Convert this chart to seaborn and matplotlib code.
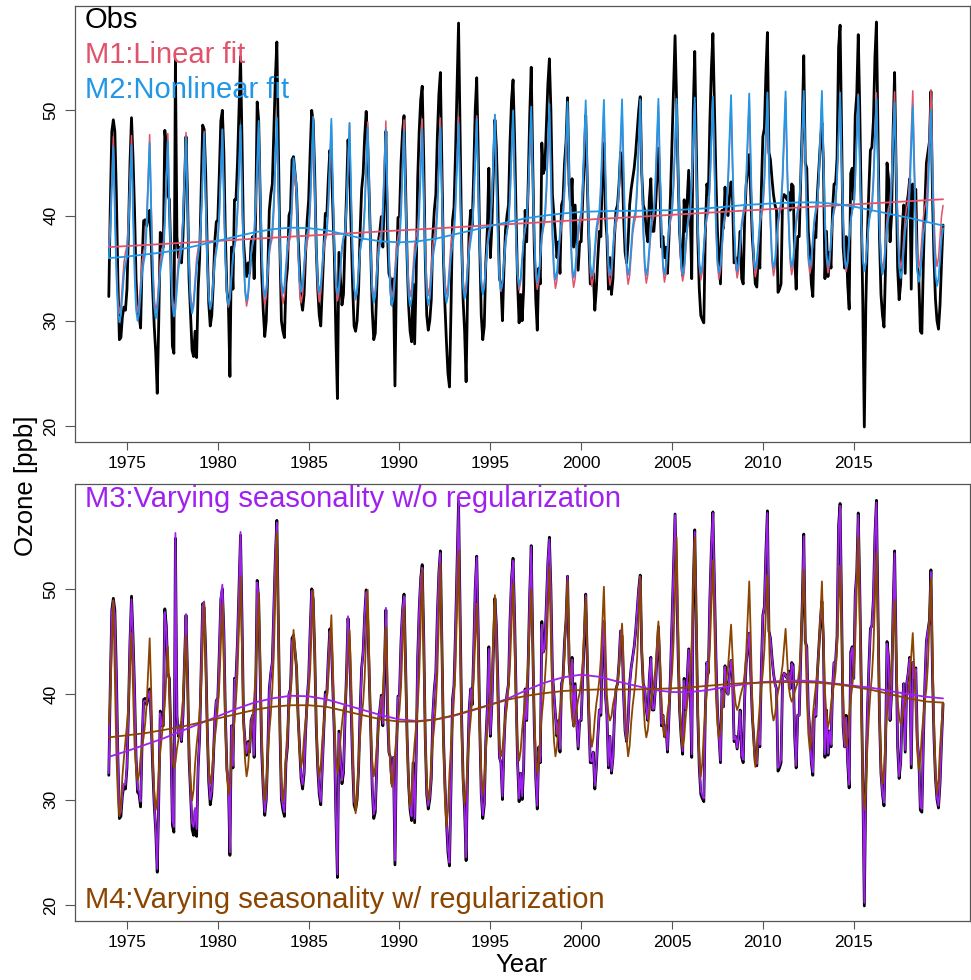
import numpy as np
import pandas as pd
import matplotlib
matplotlib.use("Agg")
import matplotlib.pyplot as plt
import seaborn as sns

# ---------------------------------------------------------------- data
years = list(range(1974, 2020))
x_ticks = [1975, 1980, 1985, 1990, 1995, 2000, 2005, 2010, 2015]
y_ticks = [20, 30, 40, 50]

# monthly observed ozone [ppb], one row per year (Jan..Dec); None = missing month
obs = [
    [32.3, 41.0, 48.0, 49.1, 48.0, 42.0, 34.0, 28.2, 28.4, 30.4, 31.3, 31.0],
    [33.0, 38.5, 45.0, 49.3, 45.5, 40.5, 34.0, 30.7, 30.5, 29.3, 35.5, 39.5],
    [39.6, 39.0, 39.7, 40.5, 37.5, 33.0, 29.5, 27.0, 23.1, 30.0, 38.4, 37.0],
    [37.0, 48.1, 46.5, 42.0, 41.5, 36.0, 27.6, 26.9, 54.8, 38.0, 36.0, 37.0],
    [35.5, 38.0, 43.0, 47.5, 42.0, 34.0, 30.5, 27.2, 26.6, 29.0, 26.5, 33.0],
    [36.0, 42.5, 48.6, 48.2, 44.0, 37.0, 31.7, 29.5, 30.5, 33.5, 37.5, 39.4],
    [39.6, 44.0, 49.0, 50.0, 46.0, 38.0, 32.9, 31.5, 24.7, 37.0, 33.0, 41.5],
    [41.5, 45.0, 50.0, 55.1, 47.0, 37.5, 35.5, 34.2, 35.5, 34.5, 37.5, 38.0],
    [34.0, 40.0, 50.8, 49.0, 41.5, 34.5, 31.0, 28.5, 30.0, 34.5, 40.5, 42.0],
    [43.0, 48.0, 53.0, 56.5, 47.0, 37.0, 30.0, 29.0, 28.4, 33.5, 35.0, 40.0],
    [40.5, 45.3, 45.6, None, 42.5, 38.0, 35.0, 32.0, 31.0, 32.5, 36.5, 39.5],
    [41.5, 46.0, 50.0, 49.0, 44.0, 37.0, 33.0, 30.5, 29.5, 33.0, 36.5, 40.2],
    [40.0, 43.5, 46.2, 45.0, 40.5, 36.0, 28.5, 22.6, 36.5, 34.0, 31.5, 32.5],
    [37.5, 42.0, 47.2, 44.5, 39.0, 33.5, 29.5, 29.0, 30.0, 33.0, 38.5, 42.5],
    [44.0, 47.5, 49.9, 47.0, 42.0, 36.7, 31.0, 28.2, 28.8, 33.0, 37.5, 38.5],
    [39.9, 37.0, 42.0, 48.0, 38.5, 34.5, 34.0, 31.5, 34.0, 23.8, 34.5, 39.8],
    [39.9, 45.0, 48.0, 49.5, 43.0, 36.0, 31.5, 29.0, 28.0, 33.5, 27.8, 34.0],
    [43.4, 48.0, 51.0, 52.3, 45.5, 36.0, 30.5, 29.1, 30.0, 32.0, 38.0, 40.5],
    [42.0, 47.5, 51.5, 53.6, 45.0, 36.0, 31.5, 28.0, 25.0, 23.7, 31.0, 39.5],
    [40.8, 46.0, 52.0, 58.3, 48.0, 38.0, 32.0, 29.0, 24.2, 33.0, 38.5, 40.5],
    [39.0, 44.0, 50.0, 53.1, 46.0, 37.0, 30.5, 28.2, 29.5, 35.5, 38.6, 44.5],
    [36.0, 39.0, 44.0, 49.1, 46.5, 41.0, 34.0, 33.5, 30.0, 35.0, 38.6, 40.0],
    [41.0, 47.0, 51.0, 52.9, 47.5, 40.0, 33.5, 29.8, 32.5, 30.0, 33.0, 40.5],
    [37.5, 43.0, 49.5, 54.1, 45.0, 37.0, 32.0, 29.1, 35.0, 33.5, 46.9, 44.0],
    [44.5, 48.5, 52.5, 54.9, 50.0, 42.0, 40.0, 38.0, 36.0, 37.5, 34.5, 41.0],
    [41.5, 45.0, 47.0, 51.2, 43.0, 41.0, 43.5, 37.0, 41.0, 37.5, 34.8, 37.5],
    [37.5, 41.5, 45.0, 49.5, 43.5, 38.0, 33.5, 33.5, 34.5, 31.0, 33.0, 36.0],
    [38.5, 38.0, 44.5, 46.9, 40.0, 38.0, 33.0, 36.0, 32.5, 34.0, 38.0, 40.5],
    [41.0, 43.0, 46.0, 45.5, 40.0, 36.5, 35.5, 37.5, 41.0, 42.5, 43.5, 44.5],
    [46.0, 48.0, 50.0, 51.3, 44.0, 41.0, 40.5, 38.5, 37.5, 41.5, 43.5, 38.5],
    [38.5, 40.5, 43.5, 46.4, 42.5, 37.0, 38.0, 36.0, 37.0, 34.5, 38.0, 42.0],
    [47.0, 52.0, 57.1, 51.0, 44.0, 38.5, 36.0, 34.3, 41.5, 38.5, 41.5, 44.3],
    [40.5, 34.0, 50.0, 55.6, 47.0, 38.0, 33.0, 30.5, 30.1, 29.8, 38.5, 43.0],
    [42.0, 49.0, 54.0, 57.3, 50.5, 43.5, 38.5, 36.0, 33.5, 40.5, 38.8, 42.7],
    [40.3, 40.0, 42.0, 43.2, 41.5, 35.5, 36.0, 34.8, 36.2, 38.5, 34.0, 33.5],
    [39.8, 43.0, 44.3, 45.8, 42.0, 38.0, 35.8, 33.5, 33.2, 36.5, 35.0, 42.5],
    [47.5, 48.3, 53.5, 57.4, 46.0, 45.3, 43.5, 42.0, 41.0, 40.5, 32.7, 33.0],
    [33.5, 41.5, 42.0, 41.8, 41.5, 42.2, 40.5, 43.0, 42.8, 36.0, 33.0, 38.0],
    [38.0, 43.5, 48.5, 55.2, 45.0, 44.5, 38.5, 36.5, 33.5, 32.3, 38.5, 37.9],
    [42.0, 44.5, 47.0, 48.8, 45.0, 34.0, 38.5, 34.2, 36.5, 35.0, 40.5, 43.0],
    [43.0, 45.5, 56.0, 58.1, 48.0, 37.0, 35.0, 38.0, 33.5, 31.1, 44.0, 44.5],
    [41.5, 49.5, 51.5, 57.2, 50.0, 41.0, 31.5, 19.9, 31.5, 38.0, 42.5, 46.2],
    [46.5, 49.0, 55.0, 58.4, 48.0, 38.0, 32.5, 30.5, 29.4, 35.0, 45.0, 43.5],
    [37.5, 40.0, 48.0, 53.6, 44.0, 35.0, 32.0, 33.5, 38.5, 41.0, 34.5, 41.0],
    [42.0, 43.5, 33.0, 43.0, 41.5, 42.5, 35.5, 34.0, 29.0, 28.8, 35.5, 41.0],
    [45.0, 46.0, 47.0, 51.8, 42.0, 36.0, 32.0, 30.0, 29.2, 31.5, 35.5, 39.1],
]

# M3 fitted values (varying seasonality, no regularization)
m3_fit = [
    [32.5, 41.2, 47.8, 48.9, 47.5, 41.5, 34.2, 28.6, 28.8, 30.6, 31.5, 31.4],
    [33.2, 38.8, 45.2, 49.0, 45.2, 40.3, 34.0, 31.0, 30.8, 29.8, 35.5, 39.3],
    [39.4, 39.2, 39.8, 40.3, 37.6, 33.2, 29.8, 27.2, 23.4, 30.2, 38.2, 37.0],
    [37.2, 47.8, 46.2, 42.0, 41.3, 36.0, 28.0, 27.4, 55.3, 38.0, 36.2, 37.0],
    [35.6, 38.2, 43.2, 47.6, 42.0, 34.2, 30.8, 27.8, 27.4, 29.2, 27.2, 33.0],
    [36.0, 42.6, 48.4, 48.8, 44.0, 37.2, 32.0, 30.0, 30.8, 33.5, 37.4, 39.4],
    [39.6, 44.0, 49.2, 50.4, 46.0, 38.2, 33.2, 31.8, 25.0, 37.0, 33.2, 41.4],
    [41.4, 45.2, 50.0, 55.4, 47.0, 37.6, 35.6, 34.4, 35.4, 34.6, 37.4, 38.0],
    [34.2, 40.2, 50.6, 49.0, 41.5, 34.6, 31.2, 28.8, 30.2, 34.5, 40.3, 42.0],
    [43.0, 48.0, 53.2, 56.3, 47.0, 37.2, 30.3, 29.4, 28.8, 33.5, 35.2, 40.0],
    [40.5, 45.0, 45.6, None, 42.5, 38.0, 35.2, 32.3, 31.4, 32.7, 36.5, 39.5],
    [41.5, 46.0, 49.8, 49.0, 44.0, 37.2, 33.2, 30.8, 29.8, 33.0, 36.5, 40.0],
    [40.0, 43.5, 46.0, 45.0, 40.5, 36.0, 28.8, 22.9, 36.3, 34.0, 31.8, 32.8],
    [37.6, 42.0, 47.4, 44.5, 39.0, 33.6, 29.8, 29.4, 30.3, 33.0, 38.4, 42.3],
    [44.0, 47.5, 49.7, 47.0, 42.0, 36.7, 31.3, 28.6, 29.2, 33.0, 37.4, 38.5],
    [39.8, 37.2, 42.0, 48.2, 38.5, 34.5, 34.0, 31.6, 34.0, 24.2, 34.5, 39.7],
    [39.9, 45.0, 48.0, 49.3, 43.0, 36.0, 31.6, 29.3, 28.4, 33.5, 28.2, 34.0],
    [43.4, 48.0, 51.0, 52.0, 45.5, 36.0, 30.6, 29.4, 30.2, 32.0, 38.0, 40.4],
    [42.0, 47.4, 51.5, 53.4, 45.0, 36.0, 31.6, 28.3, 25.3, 24.0, 31.0, 39.4],
    [40.8, 46.0, 52.0, 58.0, 48.0, 38.0, 32.0, 29.3, 24.5, 33.0, 38.4, 40.5],
    [39.0, 44.0, 50.0, 53.0, 46.0, 37.0, 30.6, 28.5, 29.7, 35.5, 38.6, 44.3],
    [36.2, 39.0, 44.0, 49.1, 46.3, 41.0, 34.0, 33.5, 30.3, 35.0, 38.5, 40.0],
    [41.0, 47.0, 51.0, 52.7, 47.5, 40.0, 33.6, 30.1, 32.5, 30.3, 33.2, 40.4],
    [37.6, 43.0, 49.5, 54.0, 45.0, 37.0, 32.2, 29.4, 35.0, 33.6, 46.6, 44.0],
    [44.5, 48.5, 52.5, 54.7, 50.0, 42.0, 40.0, 38.0, 36.2, 37.5, 34.8, 41.0],
    [41.5, 45.0, 47.0, 51.2, 43.0, 41.0, 43.3, 37.0, 40.8, 37.5, 35.0, 37.6],
    [37.6, 41.5, 45.0, 49.4, 43.5, 38.0, 33.7, 33.6, 34.5, 31.3, 33.2, 36.0],
    [38.5, 38.2, 44.5, 46.9, 40.0, 38.0, 33.2, 36.0, 32.7, 34.0, 38.0, 40.5],
    [41.0, 43.0, 46.0, 45.5, 40.0, 36.6, 35.6, 37.5, 40.8, 42.5, 43.4, 44.5],
    [46.0, 48.0, 50.0, 51.2, 44.0, 41.0, 40.5, 38.6, 37.6, 41.5, 43.4, 38.6],
    [38.6, 40.5, 43.5, 46.4, 42.5, 37.2, 38.0, 36.2, 37.0, 34.7, 38.0, 42.0],
    [47.0, 52.0, 57.0, 51.0, 44.0, 38.6, 36.2, 34.6, 41.3, 38.6, 41.5, 44.2],
    [40.5, 34.3, 50.0, 55.4, 47.0, 38.0, 33.2, 30.8, 30.4, 30.1, 38.5, 43.0],
    [42.0, 49.0, 54.0, 57.2, 50.5, 43.4, 38.5, 36.0, 33.7, 40.4, 38.8, 42.6],
    [40.3, 40.0, 42.0, 43.2, 41.5, 35.7, 36.0, 34.9, 36.2, 38.4, 34.2, 33.8],
    [39.8, 43.0, 44.3, 45.8, 42.0, 38.0, 35.9, 33.7, 33.4, 36.5, 35.2, 42.4],
    [47.4, 48.3, 53.3, 57.2, 46.0, 45.2, 43.4, 42.0, 41.0, 40.4, 33.0, 33.3],
    [33.8, 41.4, 42.0, 41.8, 41.5, 42.1, 40.5, 42.9, 42.6, 36.2, 33.2, 38.0],
    [38.0, 43.5, 48.4, 55.0, 45.0, 44.4, 38.5, 36.6, 33.7, 32.6, 38.5, 38.0],
    [42.0, 44.5, 47.0, 48.7, 45.0, 34.3, 38.4, 34.4, 36.5, 35.2, 40.5, 43.0],
    [43.0, 45.5, 55.8, 57.9, 48.0, 37.2, 35.0, 37.8, 33.6, 31.4, 43.8, 44.4],
    [41.5, 49.4, 51.5, 57.0, 50.0, 41.0, 31.6, 20.2, 31.6, 38.0, 42.4, 46.1],
    [46.5, 49.0, 55.0, 58.2, 48.0, 38.0, 32.6, 30.6, 29.7, 35.0, 44.8, 43.5],
    [37.6, 40.0, 48.0, 53.4, 44.0, 35.2, 32.2, 33.6, 38.4, 41.0, 34.7, 41.0],
    [42.0, 43.4, 33.3, 43.0, 41.5, 42.4, 35.6, 34.1, 29.3, 29.1, 35.5, 40.9],
    [45.0, 46.0, 47.0, 51.6, 42.0, 36.0, 32.1, 30.2, 29.4, 31.6, 35.5, 39.1],
]

# M4 fitted values (varying seasonality with regularization)
m4_fit = [
    [37.2, 39.8, 44.4, 48.9, 41.8, 34.4, 30.3, 28.4, 29.5, 32.2, 34.0, 35.5],
    [37.1, 39.0, 42.4, 45.8, 40.5, 35.2, 32.9, 31.8, 32.4, 34.0, 35.0, 35.9],
    [37.2, 39.0, 42.2, 45.3, 40.4, 34.8, 30.8, 29.0, 30.1, 32.6, 34.5, 35.9],
    [37.4, 39.0, 41.7, 44.5, 40.2, 35.9, 33.9, 33.0, 33.5, 34.8, 35.7, 36.4],
    [37.8, 39.5, 42.6, 45.6, 40.8, 35.5, 31.6, 29.9, 30.9, 33.4, 35.2, 36.5],
    [38.4, 40.7, 44.6, 48.6, 42.4, 36.1, 33.0, 31.5, 32.4, 34.4, 35.8, 37.0],
    [38.8, 41.0, 44.8, 48.6, 42.6, 36.6, 32.3, 30.5, 31.5, 34.1, 36.3, 37.4],
    [39.4, 42.0, 46.6, 51.1, 44.0, 36.9, 33.7, 32.2, 33.1, 35.2, 36.6, 37.8],
    [39.6, 41.8, 45.7, 49.6, 43.5, 36.8, 32.1, 29.9, 31.2, 34.2, 36.4, 38.1],
    [40.5, 43.7, 49.5, 55.3, 46.2, 37.0, 32.1, 29.9, 31.2, 34.4, 36.6, 38.4],
    [39.7, 42.0, 46.1, None, 42.5, 37.8, 34.5, 33.1, 33.9, 36.0, 37.5, 38.7],
    [40.1, 42.3, 46.1, 49.9, 43.9, 37.6, 33.9, 32.2, 33.2, 35.6, 37.3, 38.6],
    [39.7, 41.4, 44.5, 47.5, 42.7, 37.5, 34.1, 32.5, 33.4, 35.7, 37.2, 38.5],
    [39.2, 40.7, 43.4, 46.1, 41.9, 36.5, 31.1, 28.7, 30.2, 33.6, 36.0, 37.9],
    [39.2, 41.6, 45.7, 49.9, 43.4, 36.8, 33.7, 32.2, 33.1, 35.1, 36.6, 37.7],
    [38.5, 40.2, 43.3, 46.4, 41.6, 36.3, 32.8, 31.2, 32.2, 34.4, 36.0, 37.3],
    [38.5, 40.7, 44.5, 48.3, 42.3, 35.8, 31.3, 29.3, 30.5, 33.4, 35.4, 37.0],
    [38.8, 41.7, 46.8, 51.8, 43.9, 35.9, 31.8, 29.9, 31.0, 33.7, 35.5, 37.0],
    [39.1, 42.0, 47.2, 52.4, 44.3, 35.6, 30.0, 27.4, 28.9, 32.5, 35.0, 37.1],
    [39.6, 42.7, 48.1, 53.6, 45.0, 36.3, 31.7, 29.6, 30.9, 33.8, 35.9, 37.6],
    [39.5, 41.5, 45.1, 48.6, 43.0, 36.9, 32.6, 30.6, 31.8, 34.6, 36.5, 38.1],
    [40.0, 42.1, 45.8, 49.4, 43.7, 38.0, 35.3, 34.1, 34.8, 36.6, 37.8, 38.8],
    [40.6, 42.8, 46.7, 50.5, 44.5, 38.3, 35.2, 33.7, 34.6, 36.6, 38.1, 39.2],
    [40.9, 42.9, 46.4, 49.9, 44.4, 38.4, 34.3, 32.5, 33.6, 36.2, 38.0, 39.5],
    [41.3, 43.7, 47.9, 52.1, 45.5, 38.9, 35.6, 34.1, 35.0, 37.1, 38.6, 39.8],
    [41.4, 43.5, 47.1, 50.8, 45.0, 39.6, 37.7, 36.9, 37.4, 38.6, 39.5, 40.1],
    [41.3, 43.0, 46.1, 49.2, 44.4, 39.3, 36.4, 35.0, 35.8, 37.7, 39.1, 40.1],
    [41.4, 43.4, 46.8, 50.2, 44.8, 39.9, 38.2, 37.5, 37.9, 39.0, 39.7, 40.3],
    [41.1, 42.3, 44.5, 46.7, 43.3, 39.2, 35.7, 34.1, 35.1, 37.3, 38.9, 40.1],
    [41.5, 43.6, 47.4, 51.1, 45.2, 39.5, 37.0, 35.9, 36.6, 38.2, 39.3, 40.2],
    [41.1, 42.4, 44.7, 46.9, 43.4, 39.6, 37.1, 35.9, 36.6, 38.2, 39.3, 40.3],
    [42.0, 44.9, 49.9, 54.9, 47.0, 39.4, 36.4, 35.0, 35.8, 37.8, 39.2, 40.3],
    [42.1, 44.9, 49.9, 54.9, 47.1, 39.0, 34.3, 32.2, 33.5, 36.4, 38.5, 40.2],
    [42.0, 44.4, 48.5, 52.7, 46.2, 39.8, 37.1, 35.9, 36.6, 38.4, 39.6, 40.6],
    [41.5, 42.6, 44.6, 46.6, 43.5, 40.5, 39.1, 38.5, 38.9, 39.7, 40.3, 40.8],
    [42.0, 44.0, 47.3, 50.7, 45.4, 39.5, 35.1, 33.1, 34.3, 37.1, 39.1, 40.7],
    [42.1, 44.2, 47.7, 51.3, 45.7, 40.4, 38.4, 37.5, 38.0, 39.3, 40.2, 40.9],
    [41.7, 42.7, 44.4, 46.2, 43.4, 40.8, 39.8, 39.3, 39.6, 40.2, 40.7, 41.1],
    [42.2, 44.3, 48.1, 51.8, 46.0, 39.9, 36.3, 34.7, 35.7, 37.9, 39.5, 40.8],
    [42.1, 44.0, 47.3, 50.7, 45.4, 40.3, 37.9, 36.9, 37.5, 39.0, 40.1, 40.9],
    [42.1, 44.3, 48.3, 52.2, 46.0, 39.8, 36.5, 35.0, 35.9, 38.0, 39.5, 40.7],
    [42.1, 45.0, 49.9, 54.9, 47.1, 38.4, 31.9, 29.0, 30.8, 34.9, 37.8, 40.1],
    [41.7, 44.3, 48.9, 53.5, 46.3, 38.6, 33.7, 31.5, 32.8, 35.9, 38.2, 40.0],
    [40.9, 42.7, 45.8, 48.9, 44.0, 39.4, 37.9, 37.2, 37.6, 38.6, 39.3, 39.9],
    [40.2, 41.5, 43.6, 45.8, 42.4, 38.2, 34.5, 32.8, 33.8, 36.2, 37.9, 39.3],
    [40.5, 42.8, 46.9, 51.0, 44.6, 37.6, 32.8, 30.6, 31.9, 35.0, 37.1, 39.2],
]

# fixed seasonal cycles of M1 / M2 (anomaly from trend, Jan..Dec)
season_m1 = [0.0, 2.5, 6.5, 10.5, 4.0, -1.5, -5.0, -6.3, -5.5, -3.5, -1.5, -0.5]
season_m2 = [0.0, 2.6, 6.6, 10.6, 4.1, -1.5, -5.0, -6.1, -5.4, -3.5, -1.6, -0.6]

# trend components at the start of each year, plus the last month
trend_time = years + [2019 + 11 / 12]
trend_m1 = [37.00, 37.10, 37.20, 37.30, 37.40, 37.50, 37.59, 37.69, 37.79, 37.89,
            37.99, 38.09, 38.19, 38.29, 38.39, 38.49, 38.59, 38.68, 38.78, 38.88,
            38.98, 39.08, 39.18, 39.28, 39.38, 39.48, 39.58, 39.68, 39.77, 39.87,
            39.97, 40.07, 40.17, 40.27, 40.37, 40.47, 40.57, 40.67, 40.77, 40.86,
            40.96, 41.06, 41.16, 41.26, 41.36, 41.46, 41.55]
trend_m2 = [35.95, 36.1, 36.3, 36.5, 36.8, 37.2, 37.6, 38.0, 38.4, 38.7,
            38.85, 38.8, 38.6, 38.2, 37.8, 37.55, 37.45, 37.55, 37.8, 38.2,
            38.6, 39.0, 39.4, 39.75, 40.0, 40.2, 40.35, 40.4, 40.45, 40.45,
            40.5, 40.5, 40.6, 40.7, 40.85, 41.0, 41.1, 41.2, 41.25, 41.25,
            41.1, 40.85, 40.5, 40.15, 39.8, 39.4, 39.05]
trend_m3 = [34.05, 34.6, 35.2, 35.8, 36.5, 37.2, 37.9, 38.6, 39.2, 39.6,
            39.85, 39.8, 39.5, 39.0, 38.5, 38.0, 37.6, 37.45, 37.6, 37.95,
            38.45, 39.0, 39.6, 40.4, 41.1, 41.6, 41.85, 41.65, 41.2, 40.8,
            40.4, 40.2, 40.2, 40.4, 40.7, 40.95, 41.15, 41.25, 41.3, 41.2,
            41.0, 40.8, 40.6, 40.3, 40.0, 39.75, 39.6]
trend_m4 = [35.9, 36.1, 36.3, 36.6, 36.9, 37.3, 37.7, 38.1, 38.5, 38.8,
            38.95, 38.95, 38.8, 38.4, 38.0, 37.6, 37.4, 37.4, 37.6, 38.0,
            38.5, 39.0, 39.5, 39.85, 40.1, 40.3, 40.4, 40.45, 40.45, 40.45,
            40.5, 40.55, 40.65, 40.8, 40.95, 41.05, 41.1, 41.15, 41.15, 41.1,
            40.95, 40.7, 40.4, 40.0, 39.6, 39.3, 39.2]

# ---------------------------------------------------------------- table
rows = []
for yi, yr in enumerate(years):
    for mi in range(12):
        if obs[yi][mi] is None:
            continue
        rows.append({
            "time": yr + mi / 12,
            "obs": obs[yi][mi],
            "m1": trend_m1[yi] + season_m1[mi],
            "m2": trend_m2[yi] + season_m2[mi],
            "m3": m3_fit[yi][mi],
            "m4": m4_fit[yi][mi],
        })
df = pd.DataFrame(rows)
trends = pd.DataFrame({"time": trend_time, "m1": trend_m1, "m2": trend_m2,
                       "m3": trend_m3, "m4": trend_m4})

# ---------------------------------------------------------------- style
sns.set_style("ticks")
plt.rcParams["font.family"] = ["Liberation Sans", "DejaVu Sans"]

C_OBS = "black"
C_M1 = "#DF536B"
C_M2 = "#2297E6"
C_M3 = "#A020F0"
C_M4 = "#8B4500"

fig = plt.figure(figsize=(9.71, 9.80), dpi=100)
W, H = 971.0, 980.0
left, right = 75 / W, 970 / W
ax1 = fig.add_axes([left, 1 - 441.7 / H, right - left, (441.7 - 5.7) / H])
ax2 = fig.add_axes([left, 1 - 920.7 / H, right - left, (920.7 - 484.0) / H])

XLIM = (1972.14, 2021.40)
YLIM = (18.5, 59.95)


def line(ax, data, y, color, lw):
    sns.lineplot(data=data, x="time", y=y, ax=ax, color=color, linewidth=lw,
                 estimator=None, sort=False, legend=False)


# top panel: observations with M1 / M2
line(ax1, df, "obs", C_OBS, 2.0)
line(ax1, df, "m1", C_M1, 1.1)
line(ax1, df, "m2", C_M2, 1.3)
line(ax1, trends, "m1", C_M1, 1.3)
line(ax1, trends, "m2", C_M2, 1.3)

# bottom panel: observations with M3 / M4
line(ax2, df, "obs", C_OBS, 2.0)
line(ax2, df, "m3", C_M3, 1.3)
line(ax2, df, "m4", C_M4, 1.3)
line(ax2, trends, "m3", C_M3, 1.3)
line(ax2, trends, "m4", C_M4, 1.3)

for ax in (ax1, ax2):
    ax.set_xlim(*XLIM)
    ax.set_ylim(*YLIM)
    ax.set_xticks(x_ticks)
    ax.set_xticklabels([str(v) for v in x_ticks], fontsize=12.5)
    ax.set_yticks(y_ticks)
    ax.set_yticklabels([str(v) for v in y_ticks], fontsize=12.5,
                       rotation=90, va="center")
    ax.tick_params(axis="x", length=6, width=0.8, color="#555555", pad=4,
                   labelcolor="black")
    ax.tick_params(axis="y", length=7, width=0.8, color="#555555", pad=5,
                   labelcolor="black")
    ax.set_xlabel("")
    ax.set_ylabel("")
    for s in ax.spines.values():
        s.set_visible(True)
        s.set_color("#555555")
        s.set_linewidth(0.9)

# in-panel labels
TFS = 21
fig.text(84.5 / W, 1 - 28 / H, "Obs", color=C_OBS, fontsize=TFS, va="baseline")
fig.text(84.5 / W, 1 - 63 / H, "M1:Linear fit", color=C_M1, fontsize=TFS,
         va="baseline")
fig.text(84.5 / W, 1 - 98 / H, "M2:Nonlinear fit", color=C_M2, fontsize=TFS,
         va="baseline")
fig.text(84.5 / W, 1 - 507 / H, "M3:Varying seasonality w/o regularization",
         color=C_M3, fontsize=TFS, va="baseline")
fig.text(84.5 / W, 1 - 908 / H, "M4:Varying seasonality w/ regularization",
         color=C_M4, fontsize=TFS, va="baseline")

# shared axis titles
fig.text(26 / W, 1 - 486 / H, "Ozone [ppb]", fontsize=18.5, rotation=90,
         ha="center", va="center", color="black")
fig.text(521 / W, 1 - 965 / H, "Year", fontsize=18.5, ha="center",
         va="center", color="black")

fig.savefig("out.png", dpi=100)
